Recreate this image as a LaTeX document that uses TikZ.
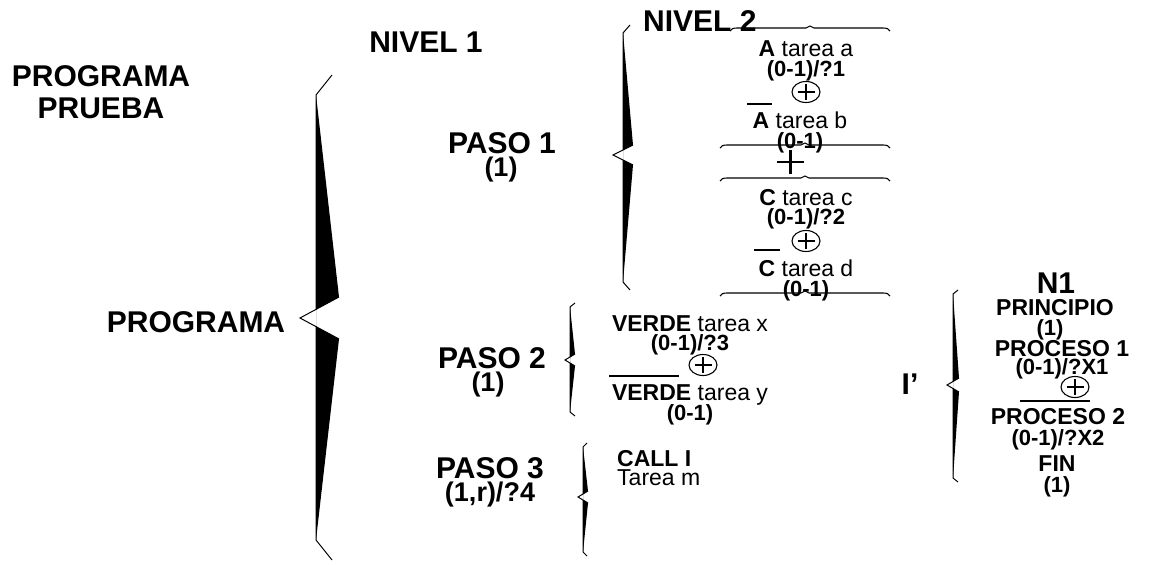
\documentclass[tikz,border=0pt]{standalone}
\usepackage{fontspec}
\setmainfont{Liberation Sans}
\usetikzlibrary{shapes.geometric}
\tikzset{
 big/.style={font=\fontsize{30}{30}\selectfont\bfseries, inner sep=0pt, anchor=base},
 par/.style={font=\fontsize{27}{27}\selectfont\bfseries, inner sep=0pt, anchor=base},
 itm/.style={font=\fontsize{23}{23}\selectfont, inner sep=0pt, anchor=base},
 bitm/.style={font=\fontsize{23}{23}\selectfont\bfseries, inner sep=0pt, anchor=base},
 pitm/.style={font=\fontsize{22}{22}\selectfont\bfseries, inner sep=0pt, anchor=base},
 obar/.style={line width=2.4pt},
 hline/.style={line width=1.1pt},
 brline/.style={line width=1pt, line join=miter},
 oplusbox/.style={draw, ellipse, minimum width=28pt, minimum height=21pt, inner sep=0pt, line width=1.1pt},
 plusline/.style={line width=2.8pt},
}
% wedge brace: spine x, top, bottom, tip y, wedge width, tip depth, arm half height, tail dx, tail dy
\newcommand{\wbr}[9]{%
 \begin{scope}
  \clip (#1,0) rectangle (1160,565);
  \fill ({#1},{#2}) -- ({#1+#5},{#4-#7}) -- ({#1-#6},{#4}) -- ({#1+#5},{#4+#7}) -- ({#1},{#3}) -- cycle;
 \end{scope}
 \draw[brline] ({#1+#8},{#2-#9}) -- ({#1},{#2}) -- ({#1},{#4-#7+#7*#5/(#5+#6)});
 \draw[brline] ({#1},{#4+#7-#7*#5/(#5+#6)}) -- ({#1},{#3}) -- ({#1+#8},{#3+#9});
 \draw[brline] ({#1+#5},{#4-#7}) -- ({#1-#6},{#4}) -- ({#1+#5},{#4+#7});
}
% flat horizontal brace: x1, x2, y
\newcommand{\hbr}[3]{%
 \draw[hline] ({#1},{#3+3}) .. controls ({#1+1},{#3+1}) and ({#1+3},{#3}) .. ({#1+7},{#3})
   -- ({(#1+#2)/2-4},{#3}) -- ({(#1+#2)/2},{#3-2}) -- ({(#1+#2)/2+4},{#3})
   -- ({#2-7},{#3}) .. controls ({#2-3},{#3}) and ({#2-1},{#3+1}) .. ({#2},{#3+3});
}
\newcommand{\oplusmark}[3]{%
 \node[oplusbox] (#1) at (#2,#3) {};
 \draw[plusline] ({#2-8.5},{#3}) -- ({#2+8.5},{#3}) ({#2},{#3-8}) -- ({#2},{#3+8});
}
\begin{document}
\begin{tikzpicture}[x=1pt,y=-1pt]
\useasboundingbox (0,0) rectangle (1160,565);

% braces
\wbr{316}{95}{540}{318}{23}{16}{21}{16}{20}
\wbr{623}{33}{282}{155}{10}{10}{10}{7}{8}
\wbr{570}{307}{412}{360}{5}{5}{6}{5}{4}
\wbr{583}{447}{552}{497}{5}{5}{6}{4}{4}
\wbr{953}{294}{478}{385}{6}{6}{7}{5}{4}

% horizontal lines of NIVEL 2 column
\hbr{730}{890}{28}
\hbr{720}{890}{145}
\hbr{720}{890}{178}
\hbr{720}{890}{293}

% left titles
\node[big] (pp1) at (101,86) {PROGRAMA};
\node[big] (pp2) at (101,118) {PRUEBA};
\node[big] (prog) at (196,332) {PROGRAMA};
\node[big] (niv1) at (426,52) {NIVEL 1};
\node[big, anchor=base west] (niv2) at (643,31) {NIVEL 2};

% pasos
\node[big] (p1) at (502,153) {PASO 1};
\node[par] (p1c) at (501,176) {(1)};
\node[big] (p2) at (492,368) {PASO 2};
\node[par] (p2c) at (488,391) {(1)};
\node[big] (p3) at (490,478) {PASO 3};
\node[par] (p3c) at (490,501) {(1,r)/?4};

% NIVEL 2 column
\node[itm] (ta) at (806,56) {\textbf{A} tarea a};
\node[pitm] (ca) at (806,76) {(0-1)/?1};
\oplusmark{op1}{806}{92}
\draw[obar] (747,104) -- (772,104);
\node[itm] (tb) at (800,128) {\textbf{A} tarea b};
\node[pitm] (cb) at (800,148) {(0-1)};
\draw[plusline] (777,162) -- (804,162) (790.5,150) -- (790.5,174);
\node[itm] (tc) at (806,205) {\textbf{C} tarea c};
\node[pitm] (cc) at (806,224) {(0-1)/?2};
\oplusmark{op2}{806}{241}
\draw[obar] (754,250) -- (780,250);
\node[itm] (td) at (806,276) {\textbf{C} tarea d};
\node[pitm] (cd) at (806,296) {(0-1)};

% PASO 2 column
\node[itm] (tx) at (690,331) {\textbf{VERDE} tarea x};
\node[pitm] (cx) at (690,350) {(0-1)/?3};
\oplusmark{op3}{703}{365}
\draw[obar] (609,376) -- (679,376);
\node[itm] (ty) at (690,400) {\textbf{VERDE} tarea y};
\node[pitm] (cy) at (690,420) {(0-1)};

% PASO 3 column
\node[bitm, anchor=base west] (call) at (617,466) {CALL I};
\node[itm, anchor=base west] (tm) at (617,485) {Tarea m};

% I' column
\node[big] (ip) at (910,394) {I’};
\node[big] (n1) at (1056,293) {N1};
\node[bitm] (pr) at (1055,315) {PRINCIPIO};
\node[pitm] (prc) at (1050,335) {(1)};
\node[bitm] (pc1) at (1062,356) {PROCESO 1};
\node[pitm] (pc1c) at (1062,374) {(0-1)/?X1};
\oplusmark{op4}{1075}{387}
\draw[obar] (1020,401) -- (1090,401);
\node[bitm] (pc2) at (1058,424) {PROCESO 2};
\node[pitm] (pc2c) at (1058,445) {(0-1)/?X2};
\node[bitm] (fin) at (1057,471) {FIN};
\node[pitm] (finc) at (1057,492) {(1)};
\end{tikzpicture}
\end{document}
